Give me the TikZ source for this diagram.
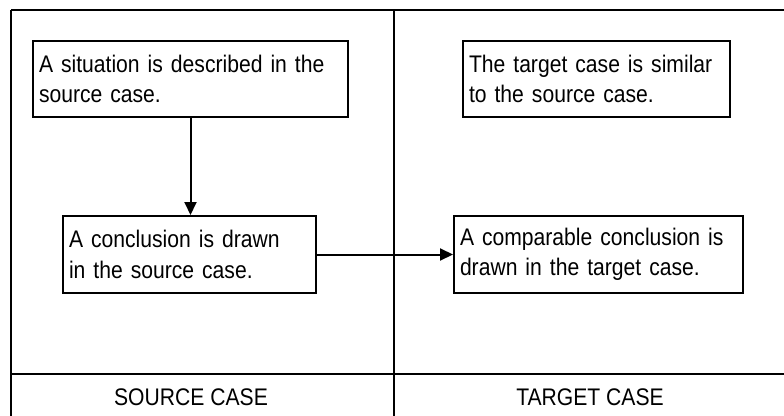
\documentclass[tikz,border=0pt]{standalone}
\usepackage{fontspec}
\setmainfont[FakeStretch=0.88]{Liberation Sans}
\usetikzlibrary{arrows.meta,calc}
\begin{document}
\begin{tikzpicture}[x=1pt,y=-1pt,
  line width=2pt,
  casebox/.style={draw, line width=2pt, rectangle, anchor=north west, inner xsep=6pt, inner ysep=0pt,
    align=left, font=\fontsize{24}{30.5}\selectfont},
  caselabel/.style={font=\fontsize{24}{28}\selectfont, inner sep=0pt},
  flow/.style={line width=2pt, -{Triangle[length=13pt,width=12pt]}}]
\useasboundingbox (0,0) rectangle (784,415);
\clip (0,0) rectangle (784,415);
% frame
\draw (11,10) -- (11,430);
\draw (11,10) -- (800,10);
\draw (394,10) -- (394,430);
\draw (11,374) -- (800,374);
% boxes
\node[casebox, minimum width=315pt, minimum height=76pt, text width=303pt] (b1) at (32,40)
  {A situation is described in the\\source case.};
\node[casebox, minimum width=253pt, minimum height=77pt, text width=241pt] (b2) at (62,215)
  {A conclusion is drawn\\in the source case.};
\node[casebox, minimum width=267pt, minimum height=76pt, text width=255pt] (b3) at (462,40)
  {The target case is similar\\to the source case.};
\node[casebox, minimum width=289pt, minimum height=77pt, text width=277pt] (b4) at (453,215)
  {A comparable conclusion is\\drawn in the target case.};
% connectors
\draw[flow] (b1.south) -- (b1.south |- b2.north);
\draw[flow] (b2.east) -- (b4.west);
% labels
\node[caselabel] (l1) at (191,397) {SOURCE CASE};
\node[caselabel] (l2) at (590,397) {TARGET CASE};
\end{tikzpicture}
\end{document}
